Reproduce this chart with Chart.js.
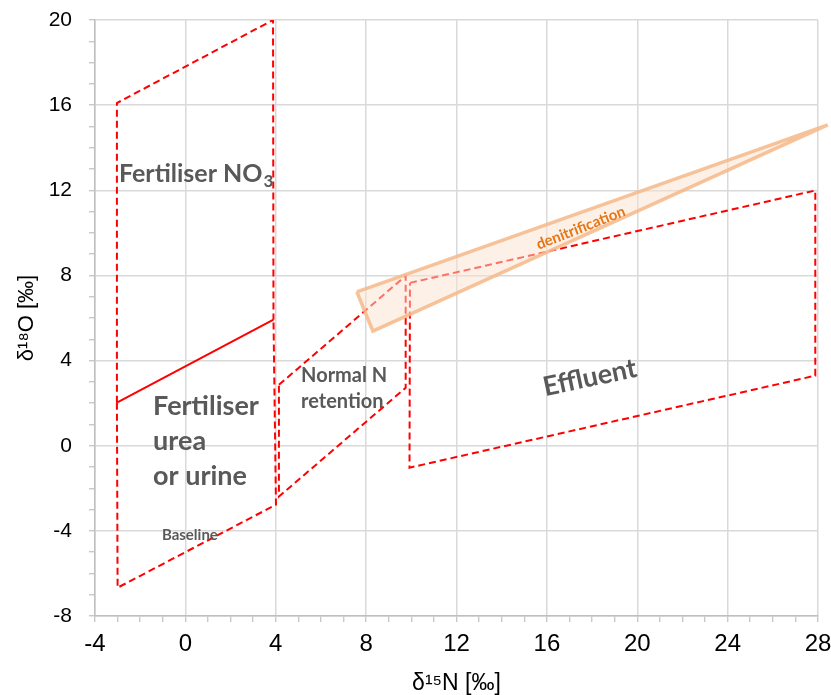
<!DOCTYPE html>
<html><head><meta charset="utf-8">
<script src="https://cdn.jsdelivr.net/npm/chart.js@4/dist/chart.umd.min.js"></script>
<style>html,body{margin:0;padding:0;background:#fff}#wrap{width:831px;height:695px;position:relative}</style>
</head><body><div id="wrap"><canvas id="c"></canvas></div>
<script>
// tick labels
const xTicks = [-4, 0, 4, 8, 12, 16, 20, 24, 28];
const yTicks = [-8, -4, 0, 4, 8, 12, 16, 20];

// shapes (δ15N, δ18O)
const no3OutlineX = [-3.03, -3.03, 3.88, 3.90];
const no3OutlineY = [2.02, 16.10, 20.0, 5.92];
const ureaTopX = [-3.03, 3.90];
const ureaTopY = [2.02, 5.92];
const ureaOutlineX = [-3.03, -3.00, 4.01, 3.90];
const ureaOutlineY = [2.02, -6.67, -2.77, 5.92];
const normalX = [4.14, 9.75, 9.75, 4.14, 4.14];
const normalY = [2.86, 7.98, 2.72, -2.39, 2.86];
const effluentX = [9.94, 27.88, 27.88, 9.92, 9.94];
const effluentY = [7.65, 11.99, 3.29, -1.03, 7.65];
const denitX = [7.59, 28.43, 8.30, 7.59];
const denitY = [7.23, 15.07, 5.38, 7.23];

// region labels
const labelTexts = [
  {lines: ['Fertiliser NO'], sub: '3', x: -2.94, y: 12.39, size: 25, rot: 0, color: '#595959', align: 'left', lh: 0},
  {lines: ['Fertiliser', 'urea', 'or urine'], x: -1.43, y: 1.46, size: 27, rot: 0, color: '#595959', align: 'left', lh: 35},
  {lines: ['Normal N', 'retention'], x: 5.12, y: 3.0, size: 20, rot: 0, color: '#595959', align: 'left', lh: 26},
  {lines: ['Baseline'], x: -1.04, y: -4.41, size: 15, rot: 0, color: '#595959', align: 'left', lh: 0},
  {lines: ['Effluent'], x: 17.9, y: 3.19, size: 27, rot: -12, color: '#595959', align: 'center', lh: 0, mid: true},
  {lines: ['denitrification'], x: 17.5, y: 10.23, size: 15, rot: -21.5, color: '#E67514', align: 'center', lh: 0, mid: true}
];

const pts = (xs, ys) => xs.map((v, i) => ({x: v, y: ys[i]}));
const red = '#FF0000';
const dashed = {borderColor: red, borderWidth: 2, borderDash: [7, 4], pointRadius: 0, showLine: true, fill: false, tension: 0};

const datasets = [
  {label: 'denitrification', data: pts(denitX, denitY), borderColor: 'rgba(246,184,138,0.85)', borderWidth: 3.5, backgroundColor: 'rgba(251,226,205,0.5)', fill: 'shape', pointRadius: 0, showLine: true, tension: 0, clip: false},
  Object.assign({label: 'Fertiliser NO3', data: pts(no3OutlineX, no3OutlineY)}, dashed),
  Object.assign({label: 'Fertiliser urea', data: pts(ureaOutlineX, ureaOutlineY)}, dashed),
  {label: 'urea top', data: pts(ureaTopX, ureaTopY), borderColor: red, borderWidth: 2, pointRadius: 0, showLine: true, fill: false},
  Object.assign({label: 'Normal N retention', data: pts(normalX, normalY)}, dashed),
  Object.assign({label: 'Effluent', data: pts(effluentX, effluentY)}, dashed)
];

const textPlugin = {
  id: 'regionText',
  afterDatasetsDraw(chart) {
    const {ctx, scales: {x, y}} = chart;
    labelTexts.forEach(l => {
      ctx.save();
      ctx.translate(x.getPixelForValue(l.x), y.getPixelForValue(l.y));
      ctx.rotate(l.rot * Math.PI / 180);
      ctx.font = `bold ${l.size}px Lato, "Open Sans", sans-serif`;
      ctx.fillStyle = l.color;
      ctx.textAlign = l.align;
      ctx.textBaseline = l.mid ? 'middle' : 'alphabetic';
      l.lines.forEach((t, i) => ctx.fillText(t, 0, i * l.lh));
      if (l.sub) {
        const w = ctx.measureText(l.lines[0]).width;
        ctx.font = `bold ${Math.round(l.size * 0.68)}px Lato, "Open Sans", sans-serif`;
        ctx.fillText(l.sub, w + 1, 5);
      }
      ctx.restore();
    });
  }
};

const gridCol = (list) => (c) => (c.tick && list.includes(c.tick.value)) ? '#D9D9D9' : 'rgba(0,0,0,0)';

new Chart(document.getElementById('c'), {
  type: 'scatter',
  data: {datasets},
  plugins: [textPlugin],
  options: {
    responsive: true,
    maintainAspectRatio: false,
    animation: false,
    layout: {padding: {left: 0, right: 13, top: 20, bottom: 0}},
    plugins: {legend: {display: false}, tooltip: {enabled: false}},
    scales: {
      x: {
        type: 'linear', min: -4, max: 28,
        afterFit: s => { s.height = 79; s.paddingLeft = 0; s.paddingRight = 0; },
        ticks: {stepSize: 1, autoSkip: false, maxRotation: 0, padding: 8, color: '#000',
          font: {family: '"Liberation Sans Narrow", "Liberation Sans", Arial', size: 24},
          callback: v => xTicks.includes(v) ? String(v) : ''},
        grid: {color: gridCol(xTicks), lineWidth: 1.5, tickColor: '#BFBFBF', tickLength: 6, tickWidth: 1.2},
        border: {color: '#BFBFBF', width: 1.5},
        title: {display: true, text: 'δ¹⁵N [‰]', color: '#000', padding: {top: 0, bottom: 0},
          font: {family: '"Liberation Sans Narrow", "Liberation Sans", Arial', size: 23, lineHeight: 1}}
      },
      y: {
        type: 'linear', min: -8, max: 20,
        afterFit: s => { s.width = 95; s.paddingTop = 0; s.paddingBottom = 0; },
        ticks: {stepSize: 1, autoSkip: false, padding: 17, color: '#000',
          font: {family: '"Liberation Sans", Arial', size: 21},
          callback: v => yTicks.includes(v) ? String(v) : ''},
        grid: {color: gridCol(yTicks), lineWidth: 1.5, tickColor: '#BFBFBF', tickLength: 6, tickWidth: 1.2},
        border: {color: '#BFBFBF', width: 1.5},
        title: {display: true, text: 'δ¹⁸O [‰]', color: '#000', padding: {top: 14, bottom: 0},
          font: {family: '"Liberation Sans", Arial', size: 22, lineHeight: 1.2}}
      }
    }
  }
});
</script>
</body></html>
